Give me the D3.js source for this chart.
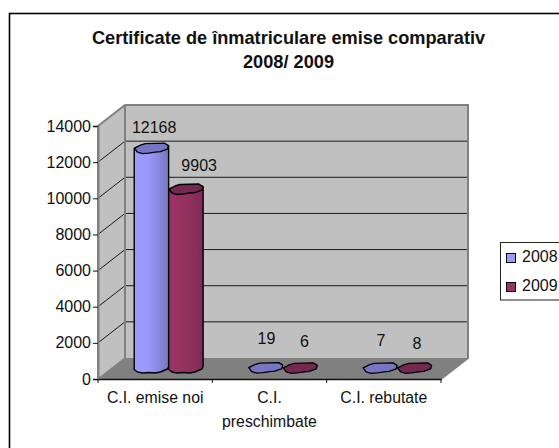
<!DOCTYPE html>
<html><head><meta charset="utf-8">
<script src="https://cdn.jsdelivr.net/npm/d3@7"></script>
<style>html,body{margin:0;padding:0;background:#fff;overflow:hidden}svg{display:block}text{font-family:"Liberation Sans",Arial,sans-serif;fill:#111}</style>
</head><body><svg id="c" width="559" height="448"></svg>
<script>
const titleLines = ["Certificate de înmatriculare emise comparativ", "2008/ 2009"];
const categories = ["C.I. emise noi", "C.I. preschimbate", "C.I. rebutate"];
const seriesNames = ["2008", "2009"];
const values2008 = [12168, 19, 7];
const values2009 = [9903, 6, 8];
const yTicks = [0, 2000, 4000, 6000, 8000, 10000, 12000, 14000];
const seriesColors = [
  {side:["#9c9cff","#9a9afa","#8484d8","#7777bd"], cap:"#7676c4", swatch:"#9999ff"},
  {side:["#993366","#96325f","#8a2e5c","#7c2a54"], cap:"#752850", swatch:"#993366"}
];

const svg = d3.select("#c");
const dx = 27, dy = 21;
const y = d3.scaleLinear().domain([0,14000]).range([379,126]);
const x = d3.scaleBand().domain(categories).range([98,441]);
const barW = 34.5;
const baseOffset = 9.5;

svg.append("rect").attr("x",9.5).attr("y",13.5).attr("width",600).attr("height",500)
  .attr("fill","#fff").attr("stroke","#000").attr("stroke-width",1.6);

const defs = svg.append("defs");
seriesColors.forEach((c,i)=>{
  const g = defs.append("linearGradient").attr("id","g"+i);
  c.side.forEach((col,k)=>g.append("stop").attr("offset",[0.08,0.4,0.78,1][k]).attr("stop-color",col));
});

const x0=x.range()[0], x1=x.range()[1], yb=y(0), yt=y(14000);
const wall = "#c0c0c0", edge="#808080";
svg.append("polygon").attr("points",[[x0,yb],[x0+dx,yb-dy],[x0+dx,yt-dy],[x0,yt]].join(" ")).attr("fill",wall);
svg.append("rect").attr("x",x0+dx).attr("y",yt-dy).attr("width",x1-x0).attr("height",yb-yt).attr("fill",wall);
svg.append("polygon").attr("points",[[x0,yb],[x1,yb],[x1+dx,yb-dy],[x0+dx,yb-dy]].join(" ")).attr("fill",edge);

yTicks.filter(t=>t>0&&t<14000).forEach(t=>{
  svg.append("polyline").attr("fill","none").attr("stroke","#1a1a1a").attr("stroke-width",1)
    .attr("points",[[x0,y(t)],[x0+dx,y(t)-dy],[x1+dx,y(t)-dy]].join(" "));
});
svg.append("polyline").attr("fill","none").attr("stroke",edge).attr("stroke-width",2)
  .attr("points",[[x0,yb],[x0,yt],[x0+dx,yt-dy],[x1+dx,yt-dy],[x1+dx,yb-dy],[x1,yb]].join(" "));
svg.append("line").attr("stroke",edge).attr("stroke-width",2)
  .attr("x1",x0+dx).attr("x2",x0+dx).attr("y1",yt-dy).attr("y2",yb-dy);
svg.append("line").attr("stroke",edge).attr("stroke-width",1.5)
  .attr("x1",x0).attr("x2",x0+dx).attr("y1",yb).attr("y2",yb-dy);

const yAxis = d3.axisLeft(y).tickValues(yTicks).tickSize(5).tickPadding(2).tickFormat(d3.format("d"));
const gy = svg.append("g").attr("transform",`translate(${x0},0)`).call(yAxis);
gy.select(".domain").attr("stroke",edge).attr("stroke-width",2);
gy.selectAll("line").attr("stroke","#111");
gy.selectAll("text").style("font-size","16px").style("font-family","Liberation Sans");

const xAxis = d3.axisBottom(x).tickSize(0).tickFormat("");
const gx = svg.append("g").attr("transform",`translate(0,${yb})`).call(xAxis);
gx.select(".domain").attr("stroke","#111").attr("stroke-width",1.4);
[...x.domain().map(d=>x(d)), x1].forEach(p=>{
  svg.append("line").attr("x1",p).attr("x2",p).attr("y1",yb).attr("y2",yb+4).attr("stroke","#111");
});

const catLines = [["C.I. emise noi"],["C.I.","preschimbate"],["C.I. rebutate"]];
categories.forEach((c,i)=>{
  catLines[i].forEach((l,k)=>{
    svg.append("text").attr("x",x(c)+x.bandwidth()/2).attr("y",403+k*24).attr("text-anchor","middle")
      .style("font-size","15.8px").text(l);
  });
});

function capPts(cx,cy,w){
  const u=w/34.5;
  return [[-17,-0.5],[-11,-3.5],[-6,-5],[13,-5.5],[17,-3],[16,0.5],[9,3],[4,3.5],[-3,4.5],[-9,5],[-14,3.5]]
    .map(p=>[cx+p[0]*u,cy+p[1]]);
}
const labelX = [[-14.5,30.5],[-16.5,21.5],[-16.5,19.5]];
const labelY = [[-15.6,-18.5],[-24,-21],[-22.4,-19.4]];
const series = [values2008, values2009];
series.forEach((vals,s)=>{
  vals.forEach((v,i)=>{
    const c = categories[i];
    const cx = x(c)+x.bandwidth()/2+dx/2+(s===0?-barW/2:barW/2);
    const baseY = yb-baseOffset-1;
    const topY = y(v)-baseOffset-1;
    const cap = capPts(cx,topY,barW);
    const col = seriesColors[s];
    const body = [[cx-17.2,topY],[cx-17.2,baseY+1],[cx-14,baseY+3.5],[cx-9,baseY+4.5],[cx-3,baseY+4],[cx+4,baseY+4.5],[cx+9,baseY+3.5],[cx+16,baseY+0.5],[cx+17.2,baseY-2],[cx+17.2,topY-3]];
    if(v>100){
      svg.append("polygon").attr("points",body.join(" ")).attr("fill",`url(#g${s})`)
        .attr("stroke","#000").attr("stroke-width",1.4).attr("stroke-linejoin","round");
    }
    svg.append("polygon").attr("points",cap.join(" ")).attr("fill",col.cap)
      .attr("stroke","#000").attr("stroke-width",1.4).attr("stroke-linejoin","round");
    svg.append("text").attr("x",x(c)+x.bandwidth()/2+dx/2+labelX[i][s]).attr("y",topY+labelY[i][s])
      .attr("text-anchor","middle").style("font-size","16px").text(d3.format("d")(v));
  });
});

titleLines.forEach((t,i)=>{
  svg.append("text").attr("x",288.5).attr("y",43.5+i*24.5).attr("text-anchor","middle")
    .style("font-size","18.2px").style("font-weight","bold").text(t);
});

svg.append("rect").attr("x",500.5).attr("y",242.5).attr("width",80).attr("height",57.5)
  .attr("fill","#fff").attr("stroke","#222").attr("stroke-width",1);
seriesNames.forEach((n,i)=>{
  svg.append("rect").attr("x",506.5).attr("y",253.5+i*29).attr("width",9).attr("height",9)
    .attr("fill",seriesColors[i].swatch).attr("stroke","#000").attr("stroke-width",1);
  svg.append("text").attr("x",522).attr("y",262+i*29).style("font-size","16px").text(n);
});
</script></body></html>
